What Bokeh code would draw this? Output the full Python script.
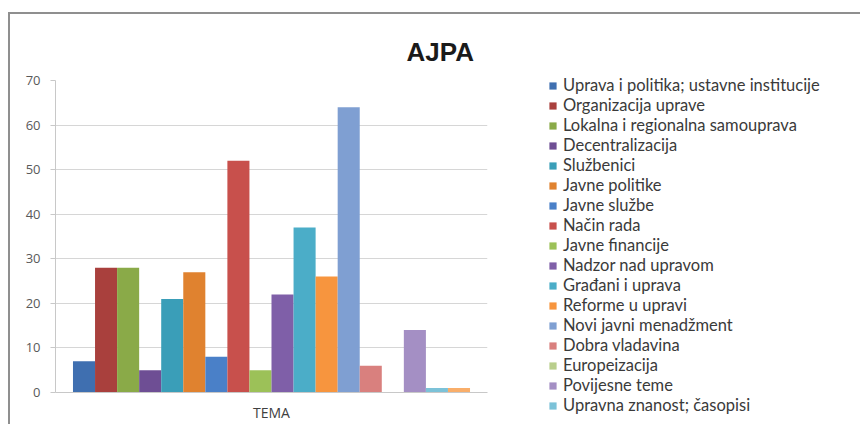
from bokeh.plotting import figure
from bokeh.models import ColumnDataSource, Legend, LegendItem, FactorRange, Range1d, SingleIntervalTicker
from bokeh.transform import dodge
from bokeh.embed import file_html
from bokeh.resources import INLINE

title_text = "AJPA"
category = ["TEMA"]
series_names = [
    "Uprava i politika; ustavne institucije",
    "Organizacija uprave",
    "Lokalna i regionalna samouprava",
    "Decentralizacija",
    "Službenici",
    "Javne politike",
    "Javne službe",
    "Način rada",
    "Javne financije",
    "Nadzor nad upravom",
    "Građani i uprava",
    "Reforme u upravi",
    "Novi javni menadžment",
    "Dobra vladavina",
    "Europeizacija",
    "Povijesne teme",
    "Upravna znanost; časopisi",
    "Ostalo",
]
series_values = [7, 28, 28, 5, 21, 27, 8, 52, 5, 22, 37, 26, 64, 6, 0, 14, 1, 1]
colors = [
    "#3F6FB0", "#A9403D", "#8AAA48", "#6E4E94", "#3A9EB8", "#E0822F",
    "#4A80C8", "#C8504C", "#9CC158", "#7F5FA8", "#4BADC8", "#F7953E",
    "#7F9FD2", "#D9807E", "#B9CE8C", "#A48FC4", "#7CC2D8", "#F9AE6A",
]
legend_count = 17
font = "Open Sans"
legend_font = "Lato"

p = figure(frame_width=432, frame_height=312, x_range=FactorRange(factors=category),
           y_range=Range1d(0, 70), output_backend="svg", toolbar_location=None,
           min_border_left=45, min_border_right=0, min_border_top=66,
           min_border_bottom=28)
p.styles = {"border-left": "2px solid #8f8f8f", "border-top": "2px solid #8f8f8f",
            "margin-top": "12px", "margin-left": "8px"}

n = len(series_values)
w = 0.05106
items = []
for i, (name, v, c) in enumerate(zip(series_names, series_values, colors)):
    src = ColumnDataSource(dict(cat=category, val=[v]))
    r = p.vbar(x=dodge("cat", (i - (n - 1) / 2) * w, range=p.x_range), top="val",
               width=w, source=src, fill_color=c, line_color=None)
    if i < legend_count:
        items.append(LegendItem(label=name, renderers=[r]))

legend = Legend(items=items, location=(61, -23), padding=0, margin=0,
                spacing=0, label_height=20, label_width=340, glyph_height=9, glyph_width=9,
                label_standoff=6, label_text_font=legend_font, label_text_font_size="16.5px",
                label_text_color="#3a3a3a", border_line_color=None,
                background_fill_alpha=0)
p.add_layout(legend, "right")

p.title.text = title_text
p.title.text_font = "Liberation Sans"
p.title.text_font_size = "26px"
p.title.text_font_style = "bold"
p.title.text_color = "#1a1a1a"
p.title.align = "left"
p.title.offset = 351
p.title.standoff = 28

p.outline_line_color = None
p.xgrid.grid_line_color = None
p.ygrid.grid_line_color = "#D6D6D6"
p.yaxis.ticker = SingleIntervalTicker(interval=10)
p.yaxis.axis_line_color = "#C8C8C8"
p.yaxis.major_tick_line_color = "#C8C8C8"
p.yaxis.major_tick_out = 5
p.yaxis.major_tick_in = 0
p.yaxis.minor_tick_line_color = None
p.yaxis.major_label_standoff = 10
p.yaxis.major_label_text_font = font
p.yaxis.major_label_text_font_size = "13px"
p.yaxis.major_label_text_color = "#595959"

p.xaxis.axis_line_color = "#C8C8C8"
p.xaxis.major_tick_line_color = None
p.xaxis.major_label_standoff = 4
p.xaxis.major_label_text_font = font
p.xaxis.major_label_text_font_size = "14px"
p.xaxis.major_label_text_color = "#404040"

open("out.html", "w").write(file_html(p, INLINE))
